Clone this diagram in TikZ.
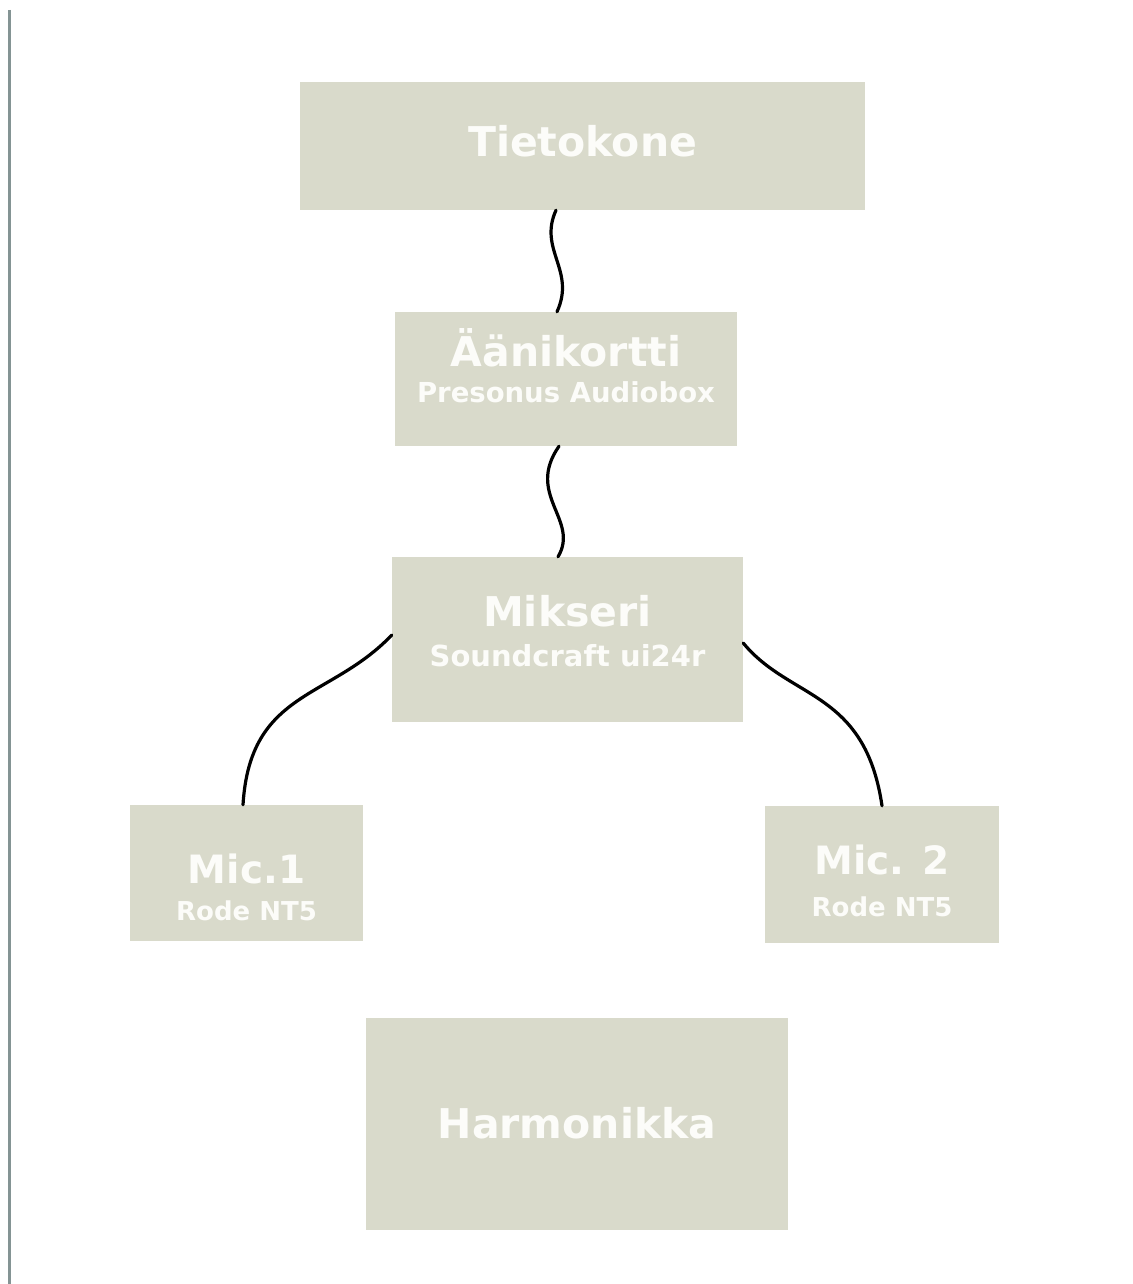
\documentclass[tikz,border=0pt]{standalone}
\usepackage{fontspec}
\setmainfont{DejaVu Sans}
\usepackage{tikz}

\definecolor{boxfill}{HTML}{D9DACB}
\definecolor{boxtext}{HTML}{FCFCF9}
\definecolor{rulegray}{HTML}{849494}

\begin{document}
\begin{tikzpicture}[x=1pt,y=-1pt,
    unit/.style={fill=boxfill,text=boxtext,inner sep=0pt,align=center,
      font=\fontsize{26}{36}\selectfont\bfseries},
    cable/.style={line width=3.2pt,line cap=round,black}]
  \useasboundingbox (0,0) rectangle (1132,1284);
  \draw[rulegray,line width=3pt] (9.5,10) -- (9.5,1284);
  % boxes
  \node[unit,minimum width=565pt,minimum height=128pt,text height=22pt,text depth=0pt]
    (tietokone) at (582.5,146) {\fontsize{41}{41}\selectfont Tietokone};
  \node[unit,minimum width=342pt,minimum height=134pt,text height=46pt,text depth=0pt]
    (aani) at (566,379) {{\fontsize{41}{41}\selectfont Äänikortti}\\\fontsize{27.5}{36}\selectfont Presonus Audiobox};
  \node[unit,minimum width=351pt,minimum height=165pt,text height=53pt,text depth=0pt]
    (mikseri) at (567.5,639.5) {{\fontsize{41}{41}\selectfont Mikseri}\\[4pt]\fontsize{29}{36}\selectfont Soundcraft ui24r};
  \node[unit,minimum width=233pt,minimum height=136pt,text height=94pt,text depth=0pt]
    (mic1) at (246.5,873) {{\fontsize{39}{39}\selectfont Mic.1}\\[1pt]Rode NT5};
  \node[unit,minimum width=234pt,minimum height=137pt,text height=83pt,text depth=0pt]
    (mic2) at (882,874.5) {{\fontsize{39}{39}\selectfont Mic. 2}\\[6pt]Rode NT5};
  \node[unit,minimum width=422pt,minimum height=212pt,text height=28pt,text depth=0pt]
    (harmonikka) at (577,1124) {\fontsize{41}{41}\selectfont Harmonikka};
  % cables
  \draw[cable] ([xshift=-26.5pt]tietokone.south) .. controls (538,250) and (576,270) .. ([xshift=-9pt]aani.north);
  \draw[cable] ([xshift=-7pt]aani.south) .. controls (525,495) and (580,520) .. ([xshift=-9.5pt]mikseri.north);
  \draw[cable] ([yshift=4.5pt]mikseri.west) .. controls (330,700) and (250,690) .. ([xshift=-3.5pt]mic1.north);
  \draw[cable] ([yshift=-3.5pt]mikseri.east) .. controls (790,700) and (865,690) .. (mic2.north);
\end{tikzpicture}
\end{document}
